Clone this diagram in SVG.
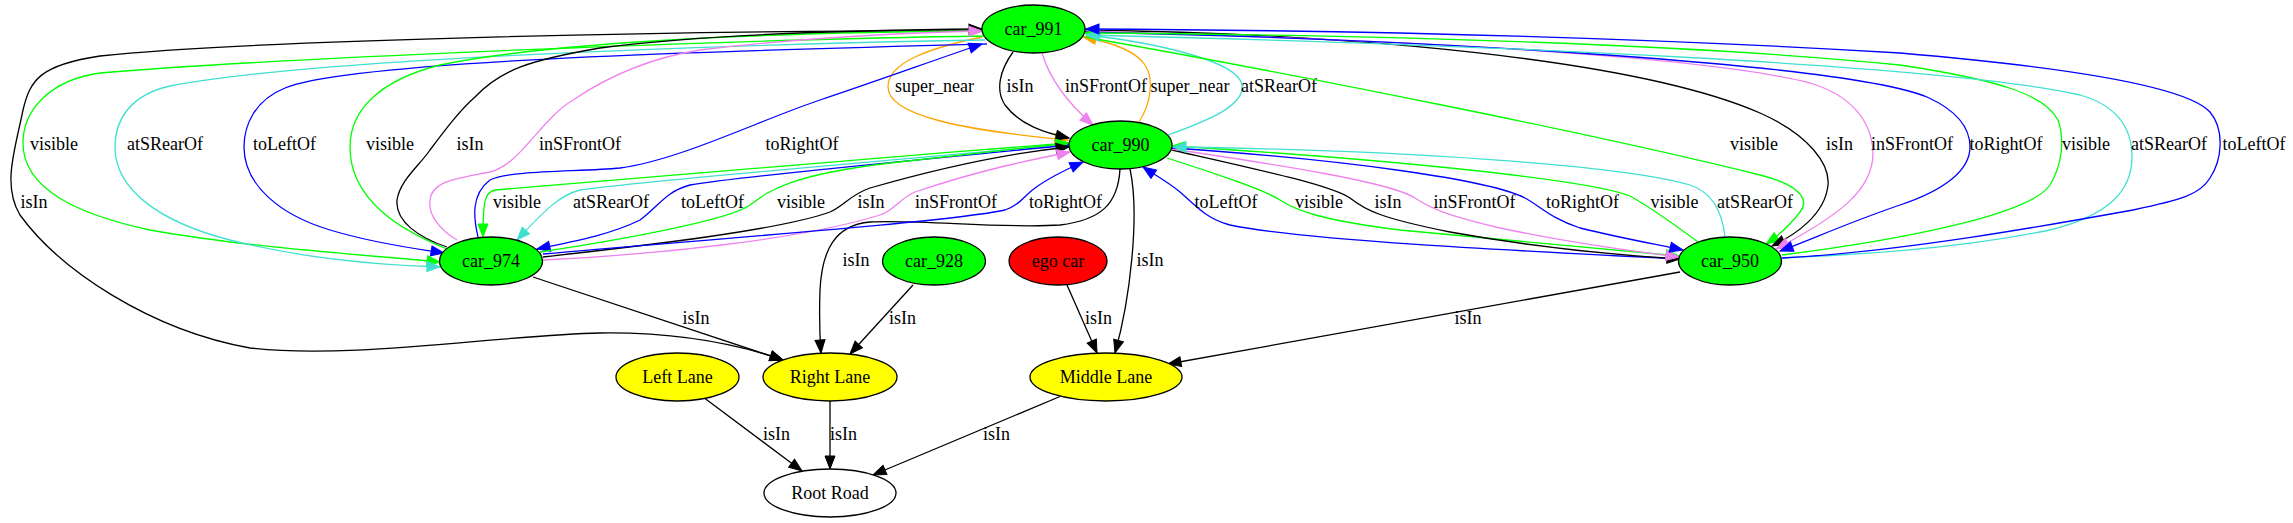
<svg xmlns="http://www.w3.org/2000/svg" width="2293" height="523" viewBox="0 0 2293 523">
<style>
.e{fill:none;stroke-width:1.3}
.k{stroke:#000}.b{stroke:#0000ff}.g{stroke:#00ff00}.t{stroke:#40e0d0}.v{stroke:#ee82ee}.o{stroke:#ffa500}
.k{marker-end:url(#mk)}.b{marker-end:url(#mb)}.g{marker-end:url(#mg)}.t{marker-end:url(#mt)}.v{marker-end:url(#mv)}.o{marker-end:url(#mo)}
text{font-family:"Liberation Serif","Times New Roman",serif;font-size:18px;fill:#000;text-anchor:middle}
.n{stroke:#000;stroke-width:1.3}
</style>
<defs>
<marker id="mk" viewBox="0 0 13 10" refX="13" refY="5" markerWidth="13" markerHeight="10" markerUnits="userSpaceOnUse" orient="auto" overflow="visible"><path d="M0,0 L13,5 L0,10 z" fill="#000" stroke="#000" stroke-width="1"/></marker>
<marker id="mb" viewBox="0 0 13 10" refX="13" refY="5" markerWidth="13" markerHeight="10" markerUnits="userSpaceOnUse" orient="auto" overflow="visible"><path d="M0,0 L13,5 L0,10 z" fill="#0000ff" stroke="#0000ff" stroke-width="1"/></marker>
<marker id="mg" viewBox="0 0 13 10" refX="13" refY="5" markerWidth="13" markerHeight="10" markerUnits="userSpaceOnUse" orient="auto" overflow="visible"><path d="M0,0 L13,5 L0,10 z" fill="#00ff00" stroke="#00ff00" stroke-width="1"/></marker>
<marker id="mt" viewBox="0 0 13 10" refX="13" refY="5" markerWidth="13" markerHeight="10" markerUnits="userSpaceOnUse" orient="auto" overflow="visible"><path d="M0,0 L13,5 L0,10 z" fill="#40e0d0" stroke="#40e0d0" stroke-width="1"/></marker>
<marker id="mv" viewBox="0 0 13 10" refX="13" refY="5" markerWidth="13" markerHeight="10" markerUnits="userSpaceOnUse" orient="auto" overflow="visible"><path d="M0,0 L13,5 L0,10 z" fill="#ee82ee" stroke="#ee82ee" stroke-width="1"/></marker>
<marker id="mo" viewBox="0 0 13 10" refX="13" refY="5" markerWidth="13" markerHeight="10" markerUnits="userSpaceOnUse" orient="auto" overflow="visible"><path d="M0,0 L13,5 L0,10 z" fill="#ffa500" stroke="#ffa500" stroke-width="1"/></marker>
</defs>
<rect width="2293" height="523" fill="#fff"/>
<g id="connectors">
<!-- lower edges -->
<path class="e k" d="M705,398.5 L802,471"/><text x="776.5" y="440">isIn</text>
<path class="e k" d="M830,401 L830,469"/><text x="843.5" y="440">isIn</text>
<path class="e k" d="M1060,396.5 L873,475"/><text x="996.5" y="440">isIn</text>
<path class="e k" d="M533,277 L783,360"/><text x="696" y="324">isIn</text>
<path class="e k" d="M913,285 L850,354"/><text x="902.5" y="324">isIn</text>
<path class="e k" d="M1067,285 L1097,353"/><text x="1098.5" y="324">isIn</text>
<path class="e k" d="M1680,272 L1168,364"/><text x="1468" y="324">isIn</text>
<path class="e k" d="M1130,169 C1140,215 1130,300 1115,353"/><text x="1150" y="266">isIn</text>
<path class="e k" d="M1120,169 C1118,205 1100,220 1060,225 C1000,229 920,219 870,222 C835,225 822,250 820,290 C819,320 820,340 821,353"/><text x="856" y="266">isIn</text>
<path class="e k" d="M982,31 C700,30 250,40 100,56 C40,65 30,80 23,110 C15,150 2,185 20,215 C60,270 150,330 250,348 C350,360 500,335 600,333 C680,332 740,345 783,360"/><text x="34" y="208">isIn</text>
<!-- car_991 <-> car_990 -->
<path class="e o" d="M982,37 C930,48 888,62 888,87 C888,115 960,130 1068,140"/><text x="934.5" y="92">super_near</text>
<path class="e k" d="M1013,52 C1000,70 995,90 1005,105 C1020,125 1045,133 1069,138"/><text x="1020" y="92">isIn</text>
<path class="e v" d="M1042,53 C1050,80 1070,105 1093,125"/><text x="1106" y="92">inSFrontOf</text>
<path class="e o" d="M1139,122 C1150,105 1155,80 1145,65 C1135,50 1110,42 1083,37"/><text x="1190" y="92">super_near</text>
<path class="e t" d="M1168,135 C1210,120 1245,105 1242,85 C1238,60 1150,42 1087,35"/><text x="1279" y="92">atSRearOf</text>
<!-- car_991 <-> car_974 -->
<path class="e g" d="M984,36 C700,40 250,60 100,73 C50,80 23,110 23,143 C23,190 80,215 150,230 C250,248 380,256 440,262"/><text x="54" y="150">visible</text>
<path class="e t" d="M985,40 C700,45 300,60 170,86 C130,95 115,120 115,147 C115,190 160,222 230,240 C300,258 380,265 440,267"/><text x="165" y="150">atSRearOf</text>
<path class="e b" d="M987,44 C750,50 350,60 285,88 C255,100 244,125 244,147 C244,185 280,215 330,230 C380,245 420,249 444,253"/><text x="284.5" y="150">toLeftOf</text>
<path class="e g" d="M447,249 C400,230 350,200 350,147 C350,110 380,80 440,65 C560,40 800,32 982,31"/><text x="390" y="150">visible</text>
<path class="e k" d="M447,247 C420,238 395,222 397,200 C400,180 420,165 430,150 C445,130 460,110 475,97 C500,70 530,60 600,48 C700,35 850,30 982,29"/><text x="470" y="150">isIn</text>
<path class="e v" d="M457,240 C440,230 428,215 430,200 C432,180 460,178 490,172 C520,165 540,120 573,100 C610,75 650,58 700,50 C800,38 900,33 982,31"/><text x="580" y="150">inSFrontOf</text>
<path class="e b" d="M478,237 C474,220 470,195 490,180 C510,170 580,172 620,168 C680,160 760,120 820,100 C880,80 940,58 982,44"/><text x="802" y="150">toRightOf</text>
<!-- car_991 <-> car_950 -->
<path class="e g" d="M1085,37 C1300,75 1600,135 1760,175 C1800,185 1810,200 1800,212 C1790,225 1778,236 1766,244"/><text x="1754" y="150">visible</text>
<path class="e k" d="M1085,30 C1400,35 1650,65 1760,113 C1810,135 1830,165 1828,185 C1825,215 1795,235 1772,246"/><text x="1839.5" y="150">isIn</text>
<path class="e v" d="M1085,31 C1400,40 1700,55 1810,83 C1850,95 1872,120 1873,153 C1873,190 1840,215 1776,249"/><text x="1912" y="150">inSFrontOf</text>
<path class="e b" d="M1085,32 C1450,40 1850,65 1927,97 C1960,112 1970,130 1970,147 C1970,170 1945,190 1900,205 C1850,222 1810,240 1780,251"/><text x="2006" y="150">toRightOf</text>
<path class="e g" d="M1782,255 C1900,240 2030,215 2050,185 C2062,165 2065,140 2058,120 C2045,95 2000,80 1900,65 C1700,45 1400,35 1085,33"/><text x="2086" y="150">visible</text>
<path class="e t" d="M1782,258 C1850,255 1950,250 2050,230 C2110,215 2132,190 2132,157 C2132,125 2115,105 2080,95 C1950,65 1500,45 1086,35"/><text x="2169" y="150">atSRearOf</text>
<path class="e b" d="M1782,258 C1900,252 2050,225 2133,210 C2180,200 2200,195 2210,178 C2222,160 2225,130 2210,112 C2190,90 2100,70 1900,53 C1600,35 1300,30 1086,29"/><text x="2254" y="150">toLeftOf</text>
<!-- car_990 <-> car_974 -->
<path class="e g" d="M1069,143 C850,160 600,180 495,190 C485,192 483,200 483,237"/><text x="517" y="208">visible</text>
<path class="e t" d="M1069,144 C900,160 650,180 580,190 C560,195 545,210 517,240"/><text x="611" y="208">atSRearOf</text>
<path class="e b" d="M1069,145 C900,162 750,175 690,185 C665,192 660,205 640,220 C610,235 570,242 537,249"/><text x="712.5" y="208">toLeftOf</text>
<path class="e g" d="M540,252 C620,240 730,220 750,205 C770,190 790,175 890,163 C960,155 1020,148 1069,143"/><text x="801" y="208">visible</text>
<path class="e k" d="M543,257 C650,245 780,230 830,212 C845,205 850,195 870,188 C950,165 1020,152 1069,147"/><text x="871" y="208">isIn</text>
<path class="e v" d="M543,260 C650,255 800,240 880,215 C895,210 900,198 915,192 C980,170 1030,160 1070,152"/><text x="956" y="208">inSFrontOf</text>
<path class="e b" d="M543,254 C700,240 950,222 1005,210 C1020,205 1025,195 1035,188 C1050,177 1065,170 1083,162"/><text x="1065.5" y="208">toRightOf</text>
<!-- car_990 <-> car_950 -->
<path class="e b" d="M1679,259 C1500,250 1300,240 1230,225 C1205,218 1195,205 1180,192 C1168,182 1155,175 1143,167"/><text x="1226" y="208">toLeftOf</text>
<path class="e g" d="M1167,158 C1220,175 1265,190 1280,200 C1295,210 1320,220 1400,230 C1520,242 1620,250 1679,256"/><text x="1319" y="208">visible</text>
<path class="e k" d="M1172,150 C1260,170 1330,185 1350,198 C1365,210 1380,218 1450,232 C1550,250 1630,256 1680,259"/><text x="1388" y="208">isIn</text>
<path class="e v" d="M1172,149 C1280,165 1390,182 1415,198 C1430,208 1445,215 1500,228 C1580,245 1640,252 1679,257"/><text x="1474.5" y="208">inSFrontOf</text>
<path class="e b" d="M1172,148 C1350,160 1490,180 1525,198 C1540,206 1550,218 1580,228 C1620,238 1660,245 1683,250"/><text x="1582.5" y="208">toRightOf</text>
<path class="e g" d="M1698,242 C1675,225 1655,210 1630,196 C1590,180 1400,160 1172,146"/><text x="1674.5" y="208">visible</text>
<path class="e t" d="M1725,237 C1722,210 1712,192 1690,185 C1620,165 1400,150 1173,147"/><text x="1755" y="208">atSRearOf</text>
</g>
<g id="car_991"><ellipse class="n" cx="1033.5" cy="29" rx="51.5" ry="24" fill="#00ff00"/><text x="1033.5" y="34.5">car_991</text></g>
<g id="car_990"><ellipse class="n" cx="1120.5" cy="145" rx="51.5" ry="24" fill="#00ff00"/><text x="1120.5" y="150.5">car_990</text></g>
<g id="car_974"><ellipse class="n" cx="491" cy="261" rx="51.5" ry="24" fill="#00ff00"/><text x="491" y="266.5">car_974</text></g>
<g id="car_928"><ellipse class="n" cx="934" cy="261" rx="51.5" ry="24" fill="#00ff00"/><text x="934" y="266.5">car_928</text></g>
<g id="ego_car"><ellipse class="n" cx="1058" cy="261" rx="49" ry="24" fill="#ff0000"/><text x="1058" y="266.5">ego car</text></g>
<g id="car_950"><ellipse class="n" cx="1730" cy="261" rx="51.5" ry="24" fill="#00ff00"/><text x="1730" y="266.5">car_950</text></g>
<g id="left_lane"><ellipse class="n" cx="677.5" cy="377" rx="61.5" ry="24" fill="#ffff00"/><text x="677.5" y="382.5">Left Lane</text></g>
<g id="right_lane"><ellipse class="n" cx="830" cy="377" rx="67" ry="24" fill="#ffff00"/><text x="830" y="382.5">Right Lane</text></g>
<g id="middle_lane"><ellipse class="n" cx="1106" cy="377" rx="76" ry="24" fill="#ffff00"/><text x="1106" y="382.5">Middle Lane</text></g>
<g id="root_road"><ellipse class="n" cx="830" cy="493" rx="66" ry="24" fill="#ffffff"/><text x="830" y="498.5">Root Road</text></g>
</svg>
